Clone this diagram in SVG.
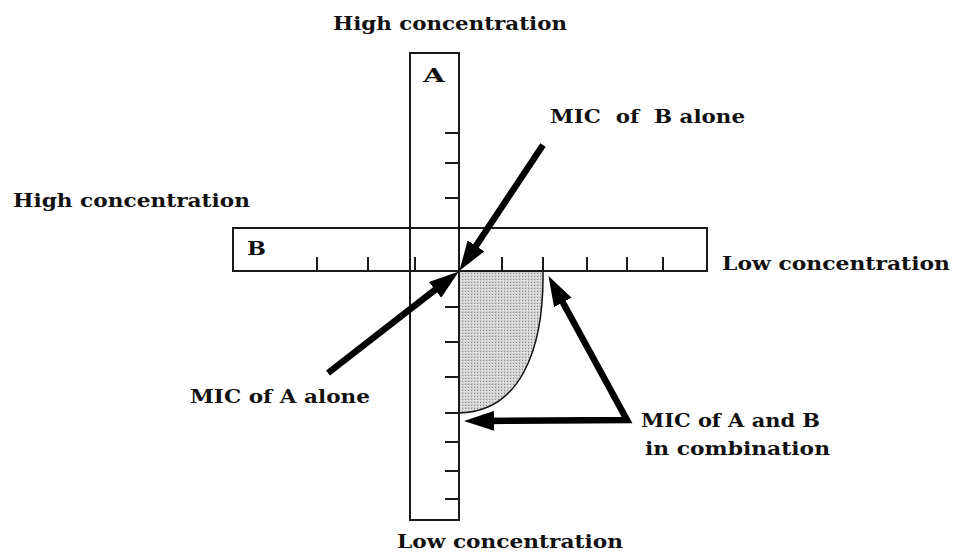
<svg xmlns="http://www.w3.org/2000/svg" width="955" height="560" viewBox="0 0 955 560">
  <style>
    .bar { fill: none; stroke: #1a1a1a; stroke-width: 2; }
    .tick { stroke: #1a1a1a; stroke-width: 2; fill: none; }
    .lbl { font-family: "DejaVu Serif", "Liberation Serif", serif; font-weight: bold; font-size: 19px; fill: #111; }
    .arrow { fill: none; stroke: #000; stroke-width: 6.5; stroke-linejoin: miter; marker-end: url(#head); }
  </style>
  <defs>
    <marker id="head" viewBox="0 0 30 20" markerUnits="userSpaceOnUse" markerWidth="30" markerHeight="20" refX="17" refY="10" orient="auto-start-reverse">
      <path d="M0,0 L30,10 L0,20 z" fill="#000"/>
    </marker>
    <pattern id="stipple" width="3" height="3" patternUnits="userSpaceOnUse">
      <rect width="3" height="3" fill="#d2d2d2"/>
      <rect x="0" y="0" width="1" height="1" fill="#8a8a8a"/>
      <rect x="2" y="1" width="1" height="1" fill="#f0f0f0"/>
    </pattern>
  </defs>
  <rect width="955" height="560" fill="#fff"/>

  <g id="region">
    <path d="M459,271 L543,271 C544,350 520,412 459,413 Z" fill="url(#stipple)" stroke="none"/>
    <path d="M543,271 C544,350 520,412 459,413" fill="none" stroke="#111" stroke-width="1.5"/>
  </g>

  <g id="barA">
    <rect class="bar" x="410" y="53" width="49" height="467"/>
    <path class="tick" d="M445,133 H459 M445,163 H459 M445,198 H459 M445,307 H459 M445,342 H459 M445,377 H459 M445,413 H459 M445,442 H459 M445,471 H459 M445,499 H459 M403,228 H418"/>
    <text class="lbl" x="423" y="82" font-size="24" textLength="22" lengthAdjust="spacingAndGlyphs">A</text>
  </g>

  <g id="barB">
    <rect class="bar" x="233" y="228" width="474" height="43"/>
    <path class="tick" d="M317,257 V271 M368,257 V271 M415,257 V271 M502,257 V271 M543,257 V271 M587,257 V271 M627,257 V271 M663,257 V271"/>
    <text class="lbl" x="247" y="255" textLength="19" lengthAdjust="spacingAndGlyphs">B</text>
  </g>

  <g id="connectors">
    <path class="arrow" d="M543,145 L466.6,260"/>
    <path class="arrow" d="M328,373 L448.5,279.4"/>
    <path class="arrow" d="M554.7,287.5 L627,420 L477,421" style="marker-start:url(#head)"/>
  </g>

  <g id="labels">
    <text class="lbl" x="333" y="30" textLength="234" lengthAdjust="spacingAndGlyphs">High concentration</text>
    <text class="lbl" x="13" y="207" textLength="237" lengthAdjust="spacingAndGlyphs">High concentration</text>
    <text class="lbl" x="722" y="270" textLength="228" lengthAdjust="spacingAndGlyphs">Low concentration</text>
    <text class="lbl" x="397" y="548" textLength="226" lengthAdjust="spacingAndGlyphs">Low concentration</text>
    <text class="lbl" x="550" y="123" textLength="195" lengthAdjust="spacingAndGlyphs" xml:space="preserve">MIC  of  B alone</text>
    <text class="lbl" x="190" y="403" textLength="180" lengthAdjust="spacingAndGlyphs">MIC of A alone</text>
    <text class="lbl" x="641" y="427" textLength="179" lengthAdjust="spacingAndGlyphs">MIC of A and B</text>
    <text class="lbl" x="645" y="455" textLength="185" lengthAdjust="spacingAndGlyphs">in combination</text>
  </g>
</svg>
